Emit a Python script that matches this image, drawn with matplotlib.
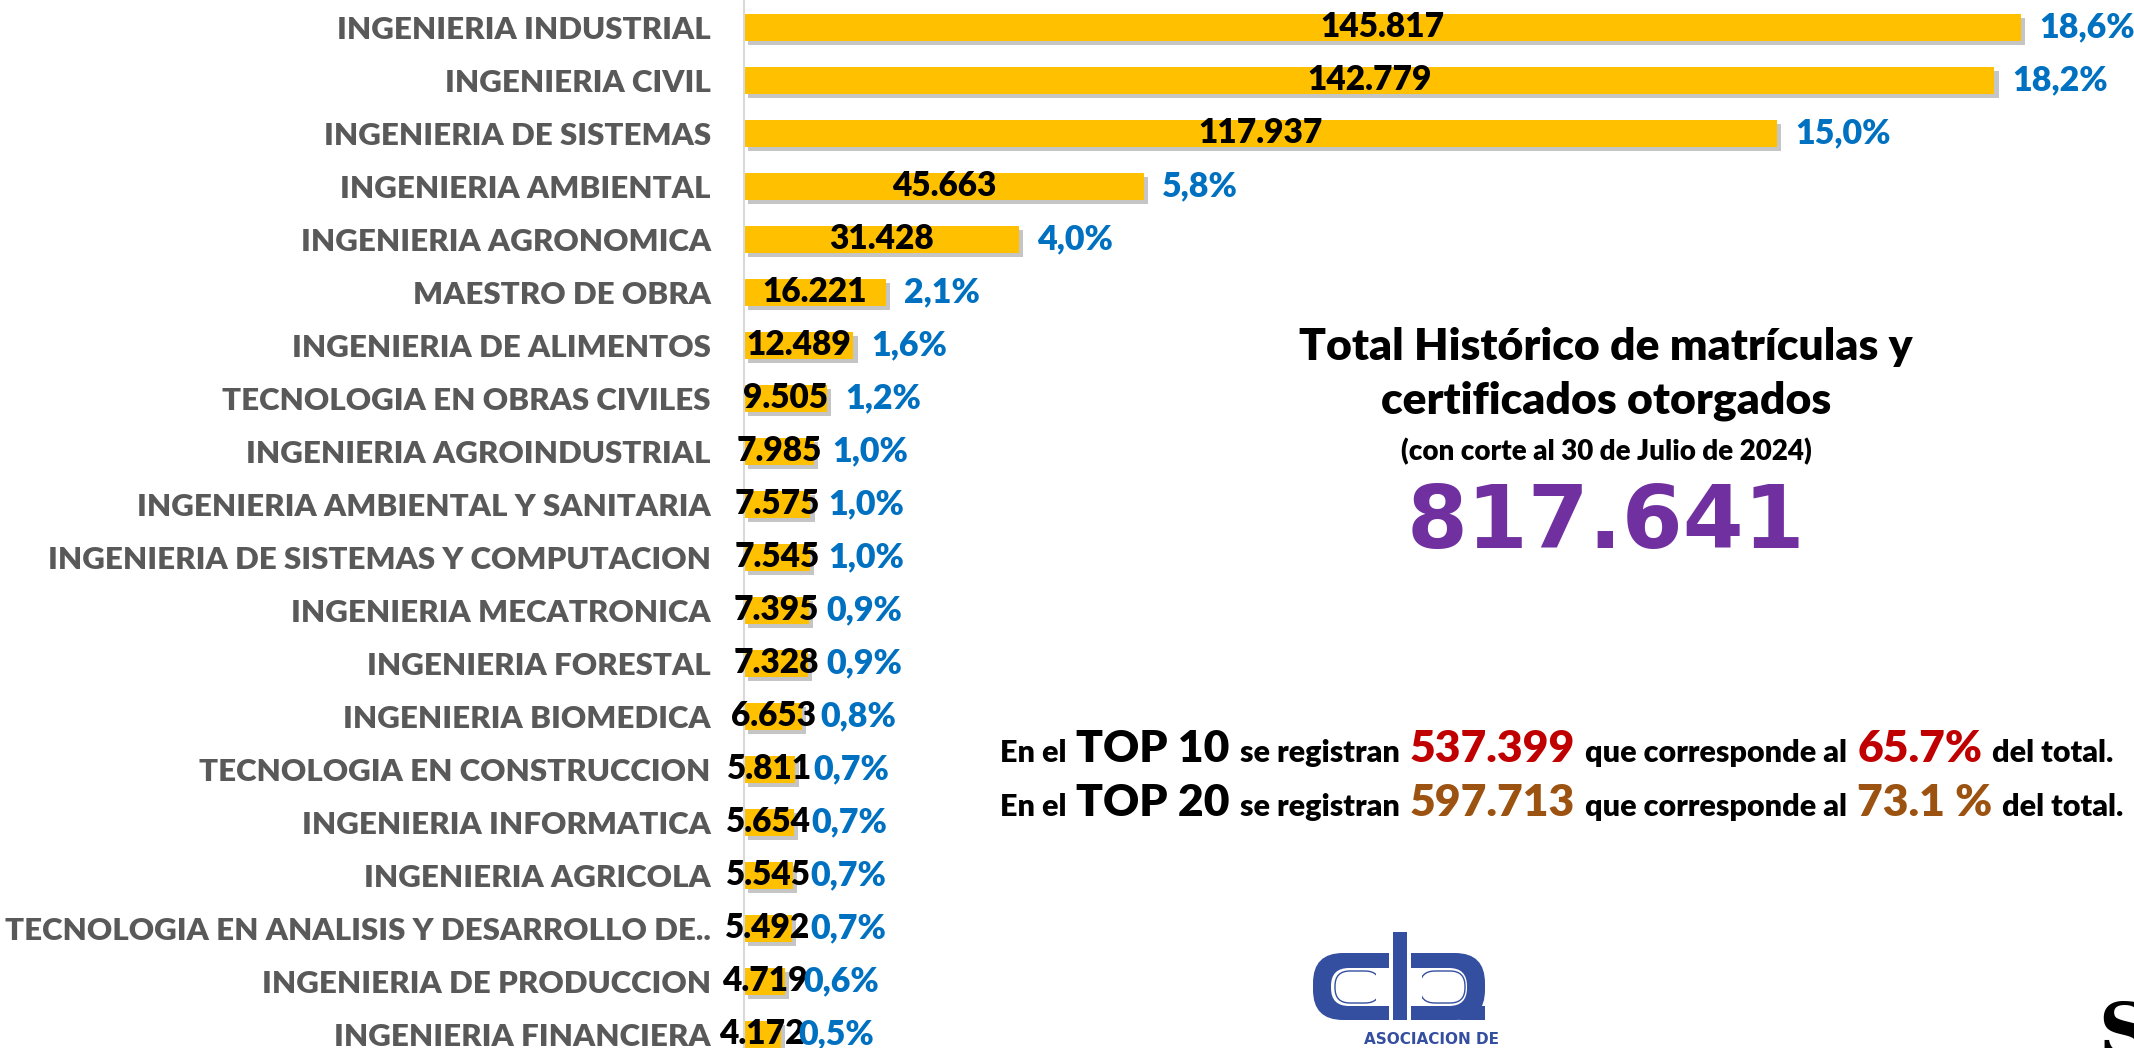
import matplotlib
matplotlib.use('Agg')
import matplotlib.pyplot as plt
import matplotlib.patheffects as pe
from matplotlib.patches import FancyBboxPatch, Rectangle

plt.rcParams['font.family'] = ['Lato', 'DejaVu Sans']

# data
careers = ['INGENIERIA INDUSTRIAL', 'INGENIERIA CIVIL', 'INGENIERIA DE SISTEMAS',
           'INGENIERIA AMBIENTAL', 'INGENIERIA AGRONOMICA', 'MAESTRO DE OBRA',
           'INGENIERIA DE ALIMENTOS', 'TECNOLOGIA EN OBRAS CIVILES',
           'INGENIERIA AGROINDUSTRIAL', 'INGENIERIA AMBIENTAL Y SANITARIA',
           'INGENIERIA DE SISTEMAS Y COMPUTACION', 'INGENIERIA MECATRONICA',
           'INGENIERIA FORESTAL', 'INGENIERIA BIOMEDICA', 'TECNOLOGIA EN CONSTRUCCION',
           'INGENIERIA INFORMATICA', 'INGENIERIA AGRICOLA',
           'TECNOLOGIA EN ANALISIS Y DESARROLLO DE..', 'INGENIERIA DE PRODUCCION',
           'INGENIERIA FINANCIERA']
counts = [145817, 142779, 117937, 45663, 31428, 16221, 12489, 9505, 7985, 7575,
          7545, 7395, 7328, 6653, 5811, 5654, 5545, 5492, 4719, 4172]
shares = ['18,6%', '18,2%', '15,0%', '5,8%', '4,0%', '2,1%', '1,6%', '1,2%', '1,0%', '1,0%',
          '1,0%', '0,9%', '0,9%', '0,8%', '0,7%', '0,7%', '0,7%', '0,7%', '0,6%', '0,5%']

total_label = '817.641'
top10_total, top10_pct = '537.399', '65.7%'
top20_total, top20_pct = '597.713', '73.1 %'

W, H = 2134, 1048
fig = plt.figure(figsize=(W / 100, H / 100), dpi=100)
fig.patch.set_facecolor('white')

ax_left = 744 / W
ax = fig.add_axes([ax_left, 1 - 1060.5 / H, 1 - ax_left, 1059.5 / H])
ax.set_facecolor('none')

ypos = list(range(len(careers)))
bars = ax.barh(ypos, counts, height=0.51, color='#FFC000', zorder=2)
for b in bars:
    b.set_path_effects([pe.SimplePatchShadow(offset=(3, -3), shadow_rgbFace='#7f7f7f', alpha=0.45),
                        pe.Normal()])

ax.set_xlim(0, counts[0] * 1390 / 1277)
ax.set_ylim(len(careers) - 0.5, -0.5)

ax.set_yticks(ypos)
ax.set_yticklabels(careers, fontsize=22.5, fontweight='heavy', color='#595959')
ax.tick_params(axis='y', length=0, pad=24)
ax.set_xticks([])
for s in ['top', 'right', 'bottom']:
    ax.spines[s].set_visible(False)
ax.spines['left'].set_color('#D9D9D9')
ax.spines['left'].set_linewidth(1.5)

for i, (v, p) in enumerate(zip(counts, shares)):
    ax.text(v / 2, i, f'{v:,}'.replace(',', '.'), ha='center', va='center',
            fontsize=24, fontweight='heavy', color='black', zorder=3)
    ax.annotate(p, (v, i), xytext=(13, 0), textcoords='offset points',
                ha='left', va='center', fontsize=24.5, fontweight='heavy', color='#0070C0')

# central summary block
cx = 1606 / W
fig.text(cx, 1 - 347 / H, 'Total Histórico de matrículas y', ha='center', va='center',
         fontsize=32, fontweight='heavy', color='black')
fig.text(cx, 1 - 401 / H, 'certificados otorgados', ha='center', va='center',
         fontsize=32, fontweight='heavy', color='black')
fig.text(cx, 1 - 452 / H, '(con corte al 30 de Julio de 2024)', ha='center', va='center',
         fontsize=20, fontweight='heavy', color='black')
fig.text(cx, 1 - 524 / H, total_label, ha='center', va='center', family='DejaVu Sans',
         fontsize=63, fontweight='bold', color='#7030A0')

# TOP 10 / TOP 20 lines, built piece by piece
renderer = fig.canvas.get_renderer()


def rich_line(x0, y0, pieces):
    x = x0
    for s, size, color in pieces:
        t = fig.text(x, y0, s, ha='left', va='baseline', fontsize=size,
                     fontweight='heavy', color=color)
        bb = t.get_window_extent(renderer)
        x = bb.x1 / W + 10 / W


red, brown = '#C00000', '#9C5210'
rich_line(1000 / W, 1 - 762 / H, [('En el', 22, 'black'), ('TOP 10', 32, 'black'),
                                  ('se registran', 22, 'black'), (top10_total, 32, red),
                                  ('que corresponde al', 22, 'black'), (top10_pct, 32, red),
                                  ('del total.', 22, 'black')])
rich_line(1000 / W, 1 - 816 / H, [('En el', 22, 'black'), ('TOP 20', 32, 'black'),
                                  ('se registran', 22, 'black'), (top20_total, 32, brown),
                                  ('que corresponde al', 22, 'black'), (top20_pct, 32, brown),
                                  ('del total.', 22, 'black')])

# association logo (approximation), drawn in pixel units of its own box
lg = fig.add_axes([1300 / W, 0, 200 / W, 128 / H])
lg.set_xlim(1300, 1500)
lg.set_ylim(1048, 920)
lg.axis('off')
blue = '#344EA0'

# left "c" and right mirrored shape: thick rounded outer, white inner, thin outline
lg.add_patch(FancyBboxPatch((1313, 953), 110, 67, boxstyle='round,pad=0,rounding_size=30',
                            fc=blue, ec='none', zorder=1))
lg.add_patch(FancyBboxPatch((1375, 953), 110, 67, boxstyle='round,pad=0,rounding_size=30',
                            fc=blue, ec='none', zorder=1))
lg.add_patch(FancyBboxPatch((1331, 968), 110, 38, boxstyle='round,pad=0,rounding_size=18',
                            fc='white', ec='none', zorder=2))
lg.add_patch(FancyBboxPatch((1357, 968), 110, 38, boxstyle='round,pad=0,rounding_size=18',
                            fc='white', ec='none', zorder=2))
lg.add_patch(FancyBboxPatch((1335, 971), 45, 32, boxstyle='round,pad=0,rounding_size=15',
                            fc='none', ec=blue, lw=1.0, zorder=3))
lg.add_patch(FancyBboxPatch((1420, 971), 45, 32, boxstyle='round,pad=0,rounding_size=15',
                            fc='none', ec=blue, lw=1.0, zorder=3))
lg.add_patch(Rectangle((1376, 969), 46, 36, fc='white', ec='none', zorder=4))
lg.add_patch(Rectangle((1389, 940), 22, 90, fc='white', ec='none', zorder=4))
lg.add_patch(Rectangle((1460, 1006), 25, 14, fc=blue, ec='none', zorder=5))
lg.add_patch(Rectangle((1393, 932), 14, 88, fc=blue, ec='none', zorder=5))
lg.text(1432, 1040, 'ASOCIACION DE', ha='center', va='center', fontsize=11,
        fontweight='bold', color=blue, family='Liberation Sans Narrow')

fig.text(2098 / W, -22 / H, 'S', ha='left', va='bottom', family='DejaVu Serif',
         fontsize=52, fontweight='bold', color='black')

fig.savefig('out.png', dpi=100, facecolor='white')
